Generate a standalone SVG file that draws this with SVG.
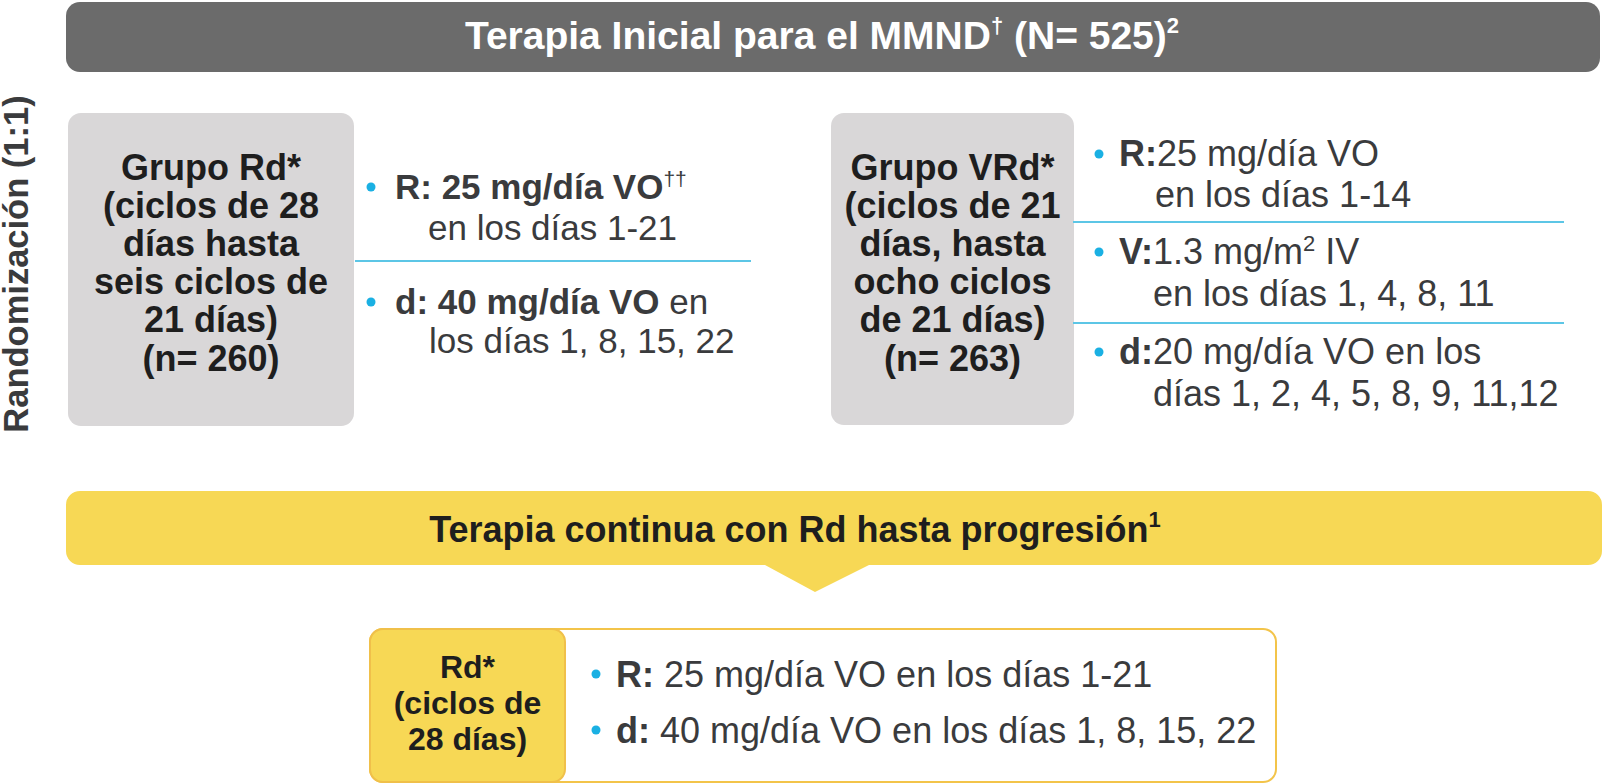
<svg xmlns="http://www.w3.org/2000/svg" width="1603" height="784" viewBox="0 0 1603 784">
<style>
.hdr{font-family:"Liberation Sans",Arial,sans-serif;font-weight:bold;font-size:39px;fill:#ffffff}
.box{font-family:"Liberation Sans",Arial,sans-serif;font-weight:bold;font-size:36px;fill:#1e1e1e;text-anchor:middle}
.bt{font-family:"Liberation Sans",Arial,sans-serif;font-size:35px;fill:#3a3b3d}
.bt36{font-size:36px}
.b{font-weight:bold}
.dot{fill:#1ab0e3}
.div{stroke:#5cc6e6;stroke-width:2}
.gray{fill:#d9d7d8}
.side{font-family:"Liberation Sans",Arial,sans-serif;font-weight:bold;font-size:34.5px;fill:#3a3b3d;text-anchor:middle}
</style>
<g id="header">
<rect x="66" y="2" width="1534" height="70" rx="14" fill="#6b6b6b"/>
<text class="hdr" x="822" y="49" text-anchor="middle">Terapia Inicial para el MMND<tspan font-size="22" dy="-16">†</tspan><tspan dy="16"> (N= 525)</tspan><tspan font-size="22" dy="-16">2</tspan></text>
</g>
<g id="randomizacion">
<text class="side" transform="translate(28,264) rotate(-90)">Randomización (1:1)</text>
</g>
<g id="grupo-rd">
<rect class="gray" x="68" y="113" width="286" height="313" rx="13"/>
<text class="box" x="211" y="180">Grupo Rd*</text>
<text class="box" x="211" y="218">(ciclos de 28</text>
<text class="box" x="211" y="256">días hasta</text>
<text class="box" x="211" y="294">seis ciclos de</text>
<text class="box" x="211" y="332">21 días)</text>
<text class="box" x="211" y="371">(n= 260)</text>
</g>
<g id="grupo-rd-dosis">
<circle class="dot" cx="371" cy="187" r="4.5"/>
<text class="bt" x="395" y="199"><tspan class="b">R: 25 mg/día VO</tspan><tspan font-size="21" dy="-13">††</tspan></text>
<text class="bt" x="428" y="240">en los días 1-21</text>
<line class="div" x1="355" y1="261" x2="751" y2="261"/>
<circle class="dot" cx="371" cy="302" r="4.5"/>
<text class="bt" x="395" y="314"><tspan class="b">d: 40 mg/día VO</tspan> en</text>
<text class="bt" x="429" y="353">los días 1, 8, 15, 22</text>
</g>
<g id="grupo-vrd">
<rect class="gray" x="831" y="113" width="243" height="312" rx="13"/>
<text class="box" x="952.5" y="180">Grupo VRd*</text>
<text class="box" x="952.5" y="218">(ciclos de 21</text>
<text class="box" x="952.5" y="256">días, hasta</text>
<text class="box" x="952.5" y="294">ocho ciclos</text>
<text class="box" x="952.5" y="332">de 21 días)</text>
<text class="box" x="952.5" y="371">(n= 263)</text>
</g>
<g id="grupo-vrd-dosis">
<circle class="dot" cx="1099" cy="154" r="4.5"/>
<text class="bt bt36" x="1119" y="166"><tspan class="b">R:</tspan>25 mg/día VO</text>
<text class="bt bt36" x="1155" y="207">en los días 1-14</text>
<line class="div" x1="1073" y1="222" x2="1564" y2="222"/>
<circle class="dot" cx="1099" cy="252" r="4.5"/>
<text class="bt bt36" x="1119" y="264"><tspan class="b">V:</tspan>1.3 mg/m<tspan font-size="22" dy="-13">2</tspan><tspan dy="13"> IV</tspan></text>
<text class="bt bt36" x="1153" y="306">en los días 1, 4, 8, 11</text>
<line class="div" x1="1073" y1="323" x2="1564" y2="323"/>
<circle class="dot" cx="1099" cy="352" r="4.5"/>
<text class="bt bt36" x="1119" y="364"><tspan class="b">d:</tspan>20 mg/día VO en los</text>
<text class="bt bt36" x="1153" y="406">días 1, 2, 4, 5, 8, 9, 11,12</text>
</g>
<g id="terapia-continua">
<path d="M80,491 H1588 A14,14 0 0 1 1602,505 V551 A14,14 0 0 1 1588,565 H869 L815,592 L765,565 H80 A14,14 0 0 1 66,551 V505 A14,14 0 0 1 80,491 Z" fill="#f7d855"/>
<text class="box" x="795" y="542">Terapia continua con Rd hasta progresión<tspan font-size="22" dy="-15">1</tspan></text>
</g>
<g id="rd-continuo">
<rect x="370" y="629" width="906" height="153" rx="13" fill="#ffffff" stroke="#f3c44a" stroke-width="2"/>
<rect x="370" y="629" width="195" height="153" rx="13" fill="#f7d855" stroke="#f0c04a" stroke-width="2"/>
<text class="box" x="467.5" y="678" style="font-size:32px">Rd*</text>
<text class="box" x="467.5" y="714" style="font-size:32px">(ciclos de</text>
<text class="box" x="467.5" y="750" style="font-size:32px">28 días)</text>
<circle class="dot" cx="596" cy="674" r="4.5"/>
<text class="bt bt36" x="616" y="687"><tspan class="b">R:</tspan> 25 mg/día VO en los días 1-21</text>
<circle class="dot" cx="596" cy="730" r="4.5"/>
<text class="bt bt36" x="616" y="743"><tspan class="b">d:</tspan> 40 mg/día VO en los días 1, 8, 15, 22</text>
</g>
<g id="connectors"></g>
</svg>
